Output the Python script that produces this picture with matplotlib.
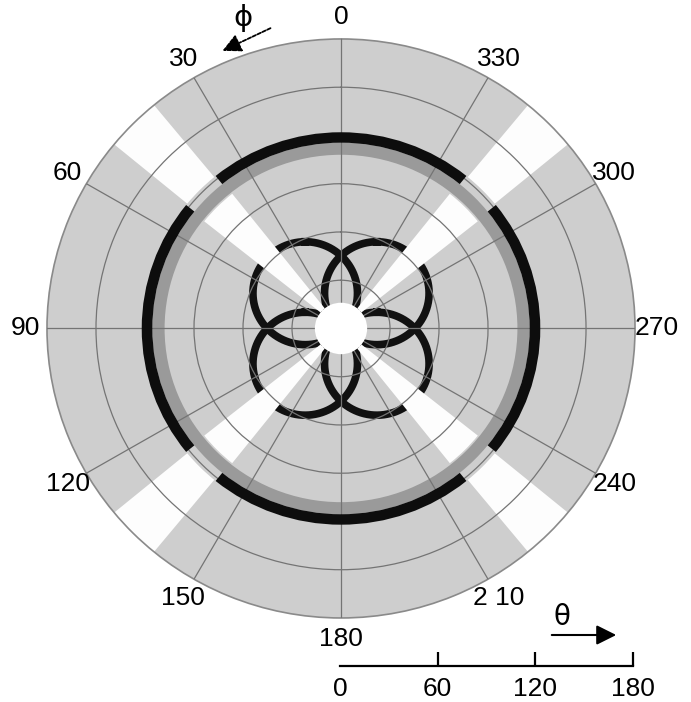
import numpy as np
import matplotlib.pyplot as plt

plt.rcParams['font.family'] = ['Liberation Sans', 'DejaVu Sans']

# azimuth (phi) labels, counter-clockwise from the top
phi_ticks = [0, 30, 60, 90, 120, 150, 180, 210, 240, 270, 300, 330]
phi_labels = ['0', '30', '60', '90', '120', '150', '180', '2 10', '240', '270', '300', '330']
theta_grid = [30, 60, 90, 120, 150]
theta_max = 180
scale_ticks = [0, 60, 120, 180]

# bright diagonal strips (phi centre, theta ranges, half width in deg)
strip_phi = [45, 135, 225, 315]
strip_theta_in = [16, 122]
strip_theta_out = [107, 180]
strip_half = [6.5, 5.5]

# rings
gray_ring = (108, 115.5)
black_ring = (115.5, 122)
black_arc_phi = [0, 90, 180, 270]
black_arc_half = 39

hole_theta = 16

# four loops of the inner pattern
loop_phi = [45, 135, 225, 315]
loop_dist = [31, 31, 31, 31]
loop_radius = [32, 32, 32, 32]

fig = plt.figure(figsize=(6.91, 7.02), dpi=100)
ax = fig.add_axes([0.068, 0.1197, 0.851, 0.8248], projection='polar')
ax.set_aspect('auto')
ax.set_theta_zero_location('N')
ax.set_theta_direction(1)
ax.set_ylim(0, theta_max)
ax.set_facecolor('#cecece')

full = 2 * np.pi
ax.bar(0, gray_ring[1] - gray_ring[0], width=full, bottom=gray_ring[0],
       color='#9a9a9a', linewidth=0, zorder=1)
ax.bar(np.radians(black_arc_phi), black_ring[1] - black_ring[0],
       width=np.radians(2 * black_arc_half), bottom=black_ring[0],
       color='#0d0d0d', linewidth=0, zorder=2.7)

# loops
t = np.linspace(0, 2 * np.pi, 400)
for p, d, rad in zip(loop_phi, loop_dist, loop_radius):
    cx = d * np.cos(np.radians(p)) + rad * np.cos(t)
    cy = d * np.sin(np.radians(p)) + rad * np.sin(t)
    ax.plot(np.arctan2(cy, cx), np.hypot(cx, cy), color='#111111', lw=5.5,
            zorder=1.5)

for t_in, t_out, hw in zip(strip_theta_in, strip_theta_out, strip_half):
    ax.bar(np.radians(strip_phi), t_out - t_in, width=np.radians(2 * hw),
           bottom=t_in, color='#fdfdfd', linewidth=0, zorder=2)

ax.bar(0, hole_theta, width=full, bottom=0, color='white', linewidth=0,
       zorder=3)

ax.set_axisbelow(False)
ax.set_xticks(np.radians(phi_ticks))
ax.set_xticklabels(phi_labels, fontsize=19)
ax.set_yticks(theta_grid)
ax.set_yticklabels([])
ax.grid(color='#747474', lw=0.9)
ax.tick_params(axis='x', pad=5)
ax.spines['polar'].set_color('#8a8a8a')
ax.spines['polar'].set_linewidth(1.2)
ax.spines['polar'].set_linestyle((0, (3, 1)))

# theta scale bar
sax = fig.add_axes([340 / 691, 0.0513, 293 / 691, 0.03])
sax.set_xlim(0, theta_max)
sax.set_facecolor('none')
for s in ['left', 'right', 'top']:
    sax.spines[s].set_visible(False)
sax.spines['bottom'].set_linewidth(1.6)
sax.set_yticks([])
sax.set_xticks(scale_ticks)
sax.set_xticklabels([str(v) for v in scale_ticks], fontsize=19)
sax.tick_params(axis='x', direction='in', length=10, width=1.6, pad=8)
sax.xaxis.get_major_ticks()[0].tick1line.set_visible(False)

# direction arrows
fig.text(562 / 691, 1 - 617 / 702, 'θ', fontsize=20, ha='center', va='center',
         family='DejaVu Sans')
ax.annotate('', xy=(619 / 691, 1 - 635 / 702),
            xytext=(549 / 691, 1 - 635 / 702),
            xycoords='figure fraction',
            arrowprops=dict(arrowstyle='-|>', color='black',
                            lw=1.5, mutation_scale=30))
fig.text(243 / 691, 1 - 18 / 702, 'ϕ', fontsize=21, ha='center', va='center',
         family='DejaVu Sans')
ax.annotate('', xy=(220 / 691, 1 - 52 / 702), xytext=(273 / 691, 1 - 27 / 702),
            xycoords='figure fraction',
            arrowprops=dict(arrowstyle='-|>', color='black', lw=1.3,
                            linestyle=(0, (2, 1)), mutation_scale=28))

fig.savefig('out.png', dpi=100)
